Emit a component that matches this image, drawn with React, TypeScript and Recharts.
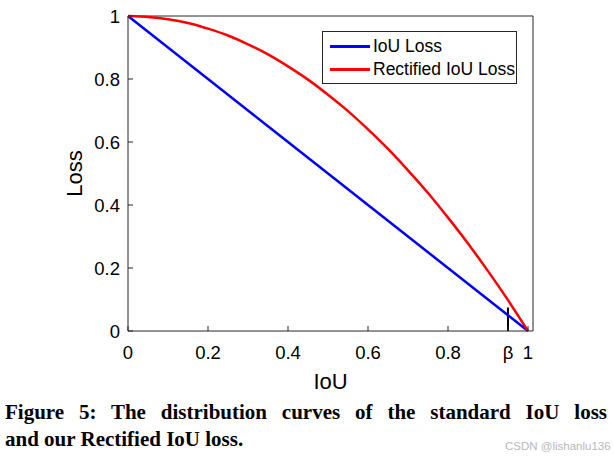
import React from 'react';
import { Line, LineChart, ReferenceLine, XAxis, YAxis } from 'recharts';

const iouValues = [0, 0.05, 0.1, 0.15, 0.2, 0.25, 0.3, 0.35, 0.4, 0.45, 0.5, 0.55, 0.6, 0.65, 0.7, 0.75, 0.8, 0.85, 0.9, 0.95, 1];
const iouLoss = [1, 0.95, 0.9, 0.85, 0.8, 0.75, 0.7, 0.65, 0.6, 0.55, 0.5, 0.45, 0.4, 0.35, 0.3, 0.25, 0.2, 0.15, 0.1, 0.05, 0];
const rectifiedLoss = [1, 0.997, 0.99, 0.978, 0.96, 0.938, 0.91, 0.878, 0.84, 0.798, 0.75, 0.698, 0.64, 0.578, 0.51, 0.438, 0.36, 0.278, 0.19, 0.098, 0];

const xTicks = [0, 0.2, 0.4, 0.6, 0.8, 0.95, 1];
const xBoxTicks = [0, 0.2, 0.4, 0.6, 0.8, 1];
const yTicks = [0, 0.2, 0.4, 0.6, 0.8, 1];
const xMax = 1.0125;
const beta = 0.95;
const betaMark = 0.075;

const seriesNames = ['IoU Loss', 'Rectified IoU Loss'];
const seriesColors = ['#0000ff', '#ff0000'];

const data = iouValues.map((x, i) => ({ x, iou: iouLoss[i], rect: rectifiedLoss[i] }));

const AXIS = '#262626';
const SANS = '"Liberation Sans", Arial, sans-serif';

const LegendBox = () => (
  <div style={{ position: 'absolute', left: 322, top: 31, border: `1px solid ${AXIS}`, background: 'white', width: 195, height: 53, boxSizing: 'border-box', fontFamily: SANS, fontSize: 17.5, color: '#000' }}>
    {seriesNames.map((name, i) => (
      <div key={name} style={{ display: 'flex', alignItems: 'center', height: 23, marginTop: i === 0 ? 3 : 0 }}>
        <div style={{ width: 40, height: 2.5, background: seriesColors[i], marginLeft: 7, marginRight: 3 }} />
        <span style={{ lineHeight: '23px' }}>{name}</span>
      </div>
    ))}
  </div>
);

const EmptyTick = () => <g />;

const App: React.FC = () => {
  return (
    <div style={{ position: 'absolute', left: 0, top: 0, width: 614, height: 459, background: 'white' }}>
      <LineChart width={614} height={400} data={data} margin={{ top: 16, right: 81, left: 0, bottom: 0 }}>
        <XAxis
          dataKey="x"
          type="number"
          domain={[0, xMax]}
          ticks={xTicks}
          tickFormatter={(v: number) => (v === beta ? 'β' : String(v))}
          height={69}
          stroke={AXIS}
          tickSize={-5}
          tickMargin={20}
          tick={{ fill: '#000', fontSize: 18.5, fontFamily: SANS }}
          label={{
            content: (props: any) => {
              const vb = props.viewBox;
              return (
                <text x={vb.x + vb.width / 2} y={389} textAnchor="middle" fontSize={22} fontFamily={SANS} fill="#000">
                  IoU
                </text>
              );
            },
          }}
        />
        <XAxis xAxisId="top" orientation="top" dataKey="x" type="number" domain={[0, xMax]} ticks={xBoxTicks} height={0} stroke={AXIS} tickSize={-5} tick={EmptyTick} />
        <YAxis
          type="number"
          domain={[0, 1]}
          ticks={yTicks}
          tickFormatter={(v: number) => String(v)}
          width={128}
          stroke={AXIS}
          tickSize={-5}
          tickMargin={13}
          tick={{ fill: '#000', fontSize: 18.5, fontFamily: SANS }}
          label={{
            content: (props: any) => {
              const vb = props.viewBox;
              const cy = vb.y + vb.height / 2;
              return (
                <text x={82} y={cy} transform={`rotate(-90 82 ${cy})`} textAnchor="middle" fontSize={22} fontFamily={SANS} fill="#000">
                  Loss
                </text>
              );
            },
          }}
        />
        <YAxis yAxisId="right" orientation="right" type="number" domain={[0, 1]} ticks={yTicks} width={0} stroke={AXIS} tickSize={-5} tick={EmptyTick} />
        <ReferenceLine y={1} stroke={AXIS} strokeWidth={1} ifOverflow="visible" />
        <ReferenceLine x={xMax} stroke={AXIS} strokeWidth={1} ifOverflow="visible" />
        <ReferenceLine segment={[{ x: beta, y: 0 }, { x: beta, y: betaMark }]} stroke="#000" strokeWidth={2} ifOverflow="visible" />
        <Line dataKey="iou" name={seriesNames[0]} stroke={seriesColors[0]} strokeWidth={2.5} dot={false} type="linear" isAnimationActive={false} />
        <Line dataKey="rect" name={seriesNames[1]} stroke={seriesColors[1]} strokeWidth={2.5} dot={false} type="monotone" isAnimationActive={false} />
      </LineChart>
      <LegendBox />
      <div style={{ position: 'absolute', left: 5, top: 399, width: 602, fontFamily: '"Liberation Serif", "Times New Roman", serif', fontWeight: 'bold', fontSize: 21, lineHeight: '27px', color: '#000' }}>
        <div style={{ textAlign: 'justify', textAlignLast: 'justify' }}>Figure 5: The distribution curves of the standard IoU loss</div>
        <div>and our Rectified IoU loss.</div>
      </div>
      <div style={{ position: 'absolute', left: 505, top: 440, fontFamily: SANS, fontSize: 11.5, color: '#b8b8b8' }}>CSDN @lishanlu136</div>
    </div>
  );
};

export default App;
